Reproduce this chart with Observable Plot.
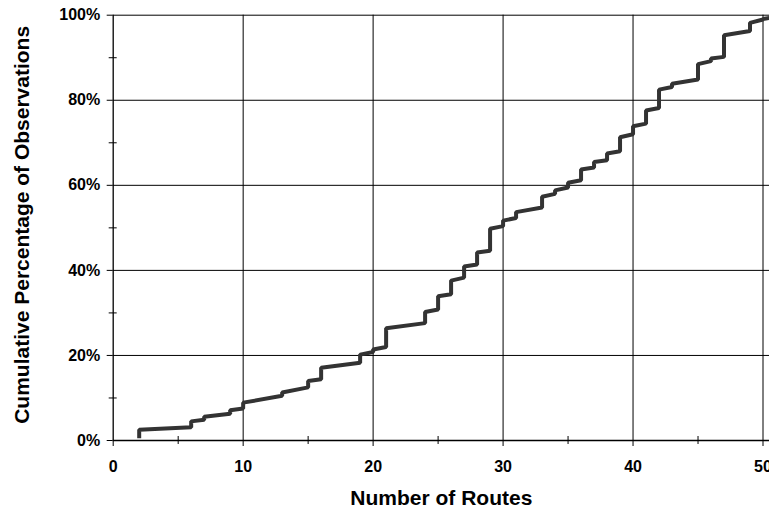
<!DOCTYPE html>
<html><head><meta charset="utf-8">
<script src="https://cdn.jsdelivr.net/npm/d3@7"></script>
<script src="https://cdn.jsdelivr.net/npm/@observablehq/plot@0.6"></script>
<style>
html,body{margin:0;padding:0;background:#fff;overflow:hidden;}
#chart svg{display:block;max-width:none;}
</style></head><body><div id="chart"></div>
<script>
// Number of routes at which each step occurs, with the cumulative % just before and just after the step
const routes    = [2,   6,   7,   9,   10,  13,   15,   16,   19,   20,   21,   24,   25,   26,   27,   28,   29,   30,   31,   33,   34,   35,   36,   37,   38,   39,   40,   41,   42,   43,   45,   46,   47,   49,   50];
const pctBefore = [0.5, 3.1, 4.9, 6.3, 7.5, 10.5, 12.5, 14.4, 18.3, 20.8, 22.0, 27.6, 30.8, 34.4, 38.3, 41.4, 44.6, 50.4, 52.3, 54.8, 58.0, 59.5, 61.2, 64.2, 65.9, 68.0, 72.0, 74.5, 78.2, 83.1, 84.9, 89.2, 90.2, 96.3, 99.0];
const pctAfter  = [2.5, 4.5, 5.6, 7.1, 8.9, 11.3, 14.0, 17.1, 20.2, 21.4, 26.4, 30.2, 33.9, 37.6, 40.9, 44.2, 49.8, 51.7, 53.7, 57.3, 58.8, 60.6, 63.7, 65.5, 67.5, 71.3, 73.9, 77.6, 82.5, 83.9, 88.5, 89.8, 95.3, 98.2, 99.1];
const tailRoutes = [51];
const tailPct    = [99.6];

const majorX = [0, 10, 20, 30, 40, 50];
const minorX = [5, 15, 25, 35, 45];
const gridX  = [10, 20, 30, 40, 50];
const majorY = [0, 20, 40, 60, 80, 100];
const minorY = [10, 30, 50, 70, 90];
const gridY  = [20, 40, 60, 80, 100];
const xTitle = "Number of Routes";
const yTitle = "Cumulative Percentage of Observations";

const points = routes.flatMap((r, i) => [{routes: r, pct: pctBefore[i]}, {routes: r, pct: pctAfter[i]}]);
tailRoutes.forEach((r, i) => points.push({routes: r, pct: tailPct[i]}));

const font = "'Liberation Sans', Arial, Helvetica, sans-serif";
const chart = Plot.plot({
  width: 769, height: 516,
  marginLeft: 112.7, marginRight: 0, marginTop: 14.7, marginBottom: 76,
  style: {fontFamily: font, fontWeight: "bold", fontSize: "16px", color: "#000", background: "#fff"},
  x: {domain: [0, 50.5]},
  y: {domain: [0, 100]},
  marks: [
    Plot.ruleX(gridX, {stroke: "#000", strokeWidth: 1}),
    Plot.ruleY(gridY, {stroke: "#000", strokeWidth: 1}),
    Plot.axisY(majorY, {tickSize: 6, tickPadding: 7, tickFormat: d => d + "%", label: null}),
    Plot.axisY(minorY, {tickSize: 8, dx: 4, fill: "none", label: null}),
    Plot.axisX(majorX, {tickSize: 6, tickPadding: 14, label: null}),
    Plot.axisX(minorX, {tickSize: 8, dy: -4, fill: "none", label: null}),
    Plot.ruleX([0], {stroke: "#000", strokeWidth: 1.3}),
    Plot.ruleY([0], {stroke: "#000", strokeWidth: 1.3}),
    Plot.line(points, {x: "routes", y: "pct", stroke: "#333", strokeWidth: 4, strokeLinejoin: "miter", strokeLinecap: "butt", clip: true}),
    Plot.text([yTitle], {frameAnchor: "left", rotate: -90, dx: -84, dy: -3, textAnchor: "middle", fontSize: 21, fontWeight: "bold", lineAnchor: "bottom", fill: "#000"}),
    Plot.text([xTitle], {frameAnchor: "bottom", dy: 58, textAnchor: "middle", fontSize: 21, fontWeight: "bold", lineAnchor: "middle", fill: "#000"})
  ]
});
document.getElementById("chart").appendChild(chart);
</script>
</body></html>
